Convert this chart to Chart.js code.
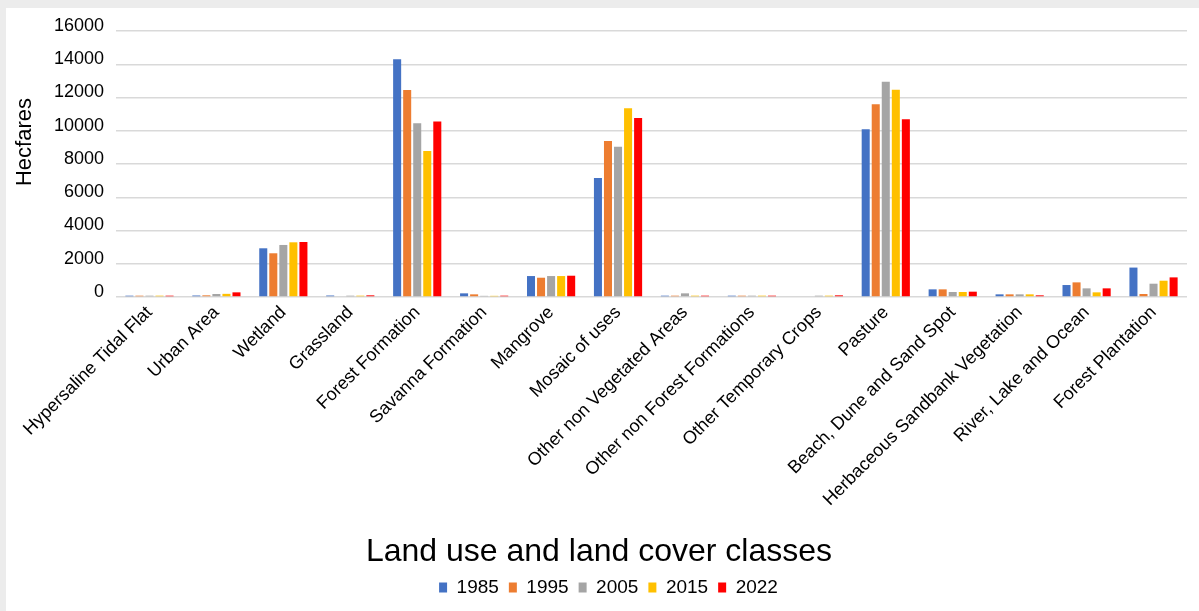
<!DOCTYPE html>
<html>
<head>
<meta charset="utf-8">
<script src="https://cdn.jsdelivr.net/npm/chart.js"></script>
<style>
  html, body { margin: 0; padding: 0; background: #ececec; }
  #wrap { position: absolute; left: 6px; top: 8px; width: 1193px; height: 603px; background: #fff; }
</style>
</head>
<body>
<div id="wrap"><canvas id="landChart" width="1193" height="603"></canvas></div>
<script>
// dados
const categorias = [
  "Hypersaline Tidal Flat", "Urban Area", "Wetland", "Grassland", "Forest Formation",
  "Savanna Formation", "Mangrove", "Mosaic of uses", "Other non Vegetated Areas",
  "Other non Forest Formations", "Other Temporary Crops", "Pasture",
  "Beach, Dune and Sand Spot", "Herbaceous Sandbank Vegetation",
  "River, Lake and Ocean", "Forest Plantation"
];
const anos = ["1985", "1995", "2005", "2015", "2022"];
const cores = ["#4472C4", "#ED7D31", "#A5A5A5", "#FFC000", "#FF0000"];

const v1985 = [80, 90, 2930, 90, 14300, 220, 1260, 7160, 80, 80, 0, 10090, 460, 160, 720, 1770];
const v1995 = [80, 100, 2630, 0, 12450, 160, 1160, 9380, 80, 80, 0, 11590, 460, 160, 880, 180];
const v2005 = [80, 180, 3130, 80, 10450, 70, 1260, 9040, 220, 80, 80, 12950, 300, 160, 520, 800];
const v2015 = [80, 190, 3290, 80, 8780, 70, 1260, 11350, 80, 80, 80, 12470, 300, 160, 280, 980];
const v2022 = [80, 280, 3310, 100, 10550, 80, 1280, 10770, 80, 80, 100, 10690, 320, 100, 520, 1180];

const yMax = 16000;
const yStep = 2000;
const tituloY = "Hecfares";
const tituloX = "Land use and land cover classes";

const series = [v1985, v1995, v2005, v2015, v2022];
const FONTE = "'Liberation Sans', Arial, sans-serif";

// títulos dos eixos desenhados à mão (no original não ficam centrados na área do gráfico)
const titulosPlugin = {
  id: "titulos",
  afterDraw(chart) {
    const ctx = chart.ctx;
    ctx.save();
    ctx.fillStyle = "#000";
    ctx.textAlign = "center";
    ctx.textBaseline = "middle";

    ctx.font = "32px " + FONTE;
    ctx.fillText(tituloX, 593, 544);

    ctx.translate(19, 134);
    ctx.rotate(-Math.PI / 2);
    ctx.font = "22px " + FONTE;
    ctx.fillText(tituloY, 0, 0);
    ctx.restore();
  }
};

const ctx = document.getElementById("landChart").getContext("2d");
new Chart(ctx, {
  type: "bar",
  data: {
    labels: categorias,
    datasets: anos.map((a, i) => ({
      label: a,
      data: series[i],
      backgroundColor: cores[i],
      borderWidth: 0,
      categoryPercentage: 0.75,
      barPercentage: 0.8
    }))
  },
  options: {
    responsive: false,
    animation: false,
    layout: { padding: { top: 23, right: 12, bottom: 4, left: 24 } },
    plugins: {
      tooltip: { enabled: false },
      legend: {
        position: "bottom",
        labels: {
          boxWidth: 8,
          boxHeight: 10,
          padding: 10,
          color: "#000",
          font: { family: FONTE, size: 19 }
        }
      }
    },
    scales: {
      x: {
        grid: { display: false, drawTicks: false },
        border: { display: false },
        ticks: {
          autoSkip: false,
          minRotation: 45,
          maxRotation: 45,
          padding: 5,
          color: "#000",
          font: { family: FONTE, size: 18 }
        },
        afterFit(scale) { scale.height = 271; }
      },
      y: {
        min: 0,
        max: yMax,
        grid: { color: "#d9d9d9", lineWidth: 1.5, drawTicks: false },
        border: { display: false },
        ticks: {
          stepSize: yStep,
          padding: 12,
          labelOffset: -5,
          color: "#000",
          font: { family: FONTE, size: 18 },
          callback: v => String(v)
        },
        afterFit(scale) { scale.width = 86; }
      }
    }
  },
  plugins: [titulosPlugin]
});
</script>
</body>
</html>
